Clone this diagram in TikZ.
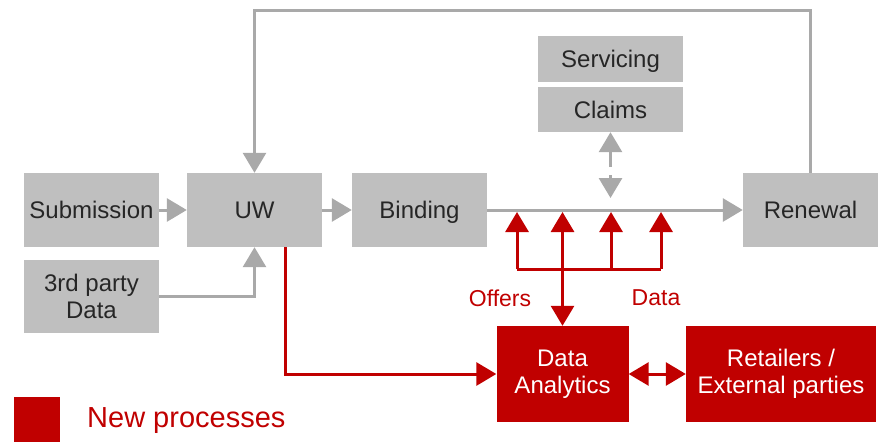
\documentclass[tikz,border=0pt]{standalone}
\usepackage{fontspec}
\setmainfont{Liberation Sans}
\usetikzlibrary{arrows.meta}

\definecolor{boxgrey}{HTML}{BFBFBF}
\definecolor{linegrey}{HTML}{A9A9A9}
\definecolor{newred}{HTML}{C00000}

\tikzset{
	process/.style={fill=boxgrey, inner sep=0pt, align=center, text=black!85,
		minimum width=135pt, minimum height=74pt, font=\fontsize{24}{27}\selectfont},
	oneline/.style={text height=17pt, text depth=0pt},
	newprocess/.style={process, fill=newred, text=white, minimum height=96pt},
	tip/.style={-{Triangle[width=23pt,length=20pt]}},
	flow/.style={draw=linegrey, line width=3pt, tip},
	newflow/.style={draw=newred, line width=3pt, tip},
	newlabel/.style={text=newred, font=\fontsize{23}{27}\selectfont}
}

\begin{document}
\begin{tikzpicture}[x=1pt,y=1pt]
	\useasboundingbox (0,0) rectangle (882,-442);
	
	% Draw nodes
	\node[process, oneline] (sub) at (91.5,-210) {Submission};
	\node[process, oneline] (uw) at (254.5,-210) {UW};
	\node[process, minimum height=73pt] (third) at (91.5,-296.5) {3rd party\\Data};
	\node[process, oneline] (bind) at (419.5,-210) {Binding};
	\node[process, oneline] (renew) at (810.5,-210) {Renewal};
	\node[process, oneline, minimum width=145pt, minimum height=46pt] (serv) at (610.5,-59) {Servicing};
	\node[process, oneline, minimum width=145pt, minimum height=45pt] (claims) at (610.5,-109.5) {Claims};
	\node[newprocess, minimum width=132pt] (da) at (562.5,-374) {Data\\Analytics};
	\node[newprocess, minimum width=190pt] (ret) at (781,-374) {Retailers /\\External parties};
	
	% Helper points
	\coordinate (top) at (0,-10);
	\coordinate (bar) at (0,-269);
	\coordinate (clup) at (610.5,-167);
	\coordinate (cltop) at (610.5,-175);
	\coordinate (cldown) at (610.5,-198);
	\coordinate (uwout) at (285,-247);
	\foreach \x [count=\i] in {517,562.5,611,661}
		\coordinate (tap\i) at (\x,-212);
	
	% Draw arcs, existing flow
	\draw[flow] (sub) to (uw);
	\draw[flow] (uw) to (bind);
	\draw[flow] (bind.east) to (renew.west);
	\draw[flow] (third.east) -| (uw.south);
	\draw[flow] (renew.north) -- (renew.north |- top) -- (uw.north |- top) -- (uw.north);
	\draw[flow] (clup) to (claims.south);
	\draw[flow] (cltop) to (cldown);
	
	% Draw arcs, new processes
	\foreach \i in {1,...,4}
		\draw[newflow] (tap\i |- bar) to (tap\i);
	\draw[draw=newred, line width=3pt] (tap1 |- bar) -- (tap4 |- bar);
	\draw[newflow] (tap2 |- bar) to (da.north);
	\draw[newflow] (uwout) |- (da.west);
	\draw[newflow, {Triangle[width=23pt,length=20pt]}-{Triangle[width=23pt,length=20pt]}] (da.east) to (ret.west);
	
	% Labels
	\node[newlabel] (offers) at (500,-298) {Offers};
	\node[newlabel] (data) at (656,-298) {Data};
	
	% Legend
	\node[fill=newred, minimum width=46pt, minimum height=45pt, inner sep=0pt] (key) at (37,-419.5) {};
	\node[newlabel, anchor=west, inner sep=0pt, font=\fontsize{29}{32}\selectfont] (keytext) at (87,-421) {New processes};
	
\end{tikzpicture}
\end{document}
